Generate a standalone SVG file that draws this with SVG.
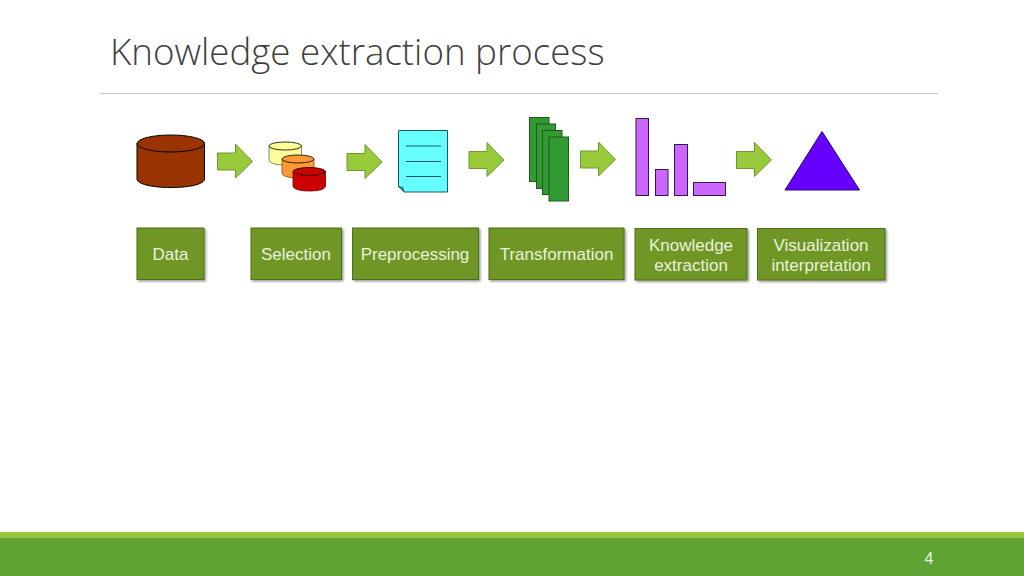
<svg xmlns="http://www.w3.org/2000/svg" width="1024" height="576" viewBox="0 0 1024 576">
<defs>
<filter id="sh" x="-10%" y="-10%" width="125%" height="125%"><feDropShadow dx="1.500" dy="1.500" stdDeviation="1.200" flood-color="#000" flood-opacity="0.4"/></filter>
<path id="arr" d="M0 9H18V0L35 17.500 18 34V26H0Z" fill="#99ca3c" stroke="#6f9a2a" stroke-width="1"/>
</defs>
<style>
.box{fill:#6f9725;stroke:#4f6e1b;stroke-width:1;filter:url(#sh)}
.lbl{font-family:"Liberation Sans",Arial,sans-serif;font-size:17px;fill:#e8f2dc;text-anchor:middle}
.k{stroke:#000;stroke-width:1}
.ln{stroke:#1a5a60;stroke-width:1;fill:none}
</style>
<rect width="1024" height="576" fill="#fff"/>
<text x="110" y="65" font-family="'Open Sans','Noto Sans',sans-serif" font-weight="300" font-size="36.700" fill="#404040" id="title">Knowledge extraction process</text>
<rect x="100" y="93" width="838" height="1" fill="#c8c8c8"/>
<rect x="0" y="532" width="1024" height="6" fill="#9bc53d"/>
<rect x="0" y="538" width="1024" height="38" fill="#5ea334"/>
<text x="929" y="564" font-family="'Liberation Sans',Arial,sans-serif" font-size="16" fill="#e8f5e0" text-anchor="middle">4</text>

<g id="connectors">
<use href="#arr" x="217.500" y="144"/>
<use href="#arr" x="347" y="144.500"/>
<use href="#arr" x="469" y="142.500"/>
<use href="#arr" x="580.500" y="142"/>
<use href="#arr" x="736.500" y="142.500"/>
</g>

<g id="icon-data">
<path class="k" fill="#993300" d="M137 143V179C137 184 152 187.500 171 187.500S204.500 184 204.500 179V143Z"/>
<ellipse class="k" cx="170.800" cy="143.500" rx="33.700" ry="8.500" fill="#993300"/>
</g>
<g id="icon-selection">
<path fill="#ffff99" stroke="#555" stroke-width=".7" d="M269 146V160C269 163 276 165 285 165S301.500 163 301.500 160V146Z"/>
<ellipse cx="285.200" cy="146" rx="16.300" ry="4" fill="#ffff99" stroke="#000" stroke-width=".8"/>
<path fill="#ff9933" stroke="#7a4a10" stroke-width=".8" d="M282 159V173C282 176 289 178 298 178S314 176 314 173V159Z"/>
<ellipse cx="298" cy="159" rx="16" ry="4" fill="#ff9933" stroke="#000" stroke-width=".8"/>
<path fill="#cc0000" stroke="#7a0000" stroke-width=".8" d="M293 171.500V186C293 189 300 191 309.500 191S325.500 189 325.500 186V171.500Z"/>
<ellipse cx="309.300" cy="171.500" rx="16.200" ry="4" fill="#cc0000" stroke="#000" stroke-width=".8"/>
</g>
<g id="icon-preprocessing">
<path d="M398.500 130.500H447.500V192H404L398.500 186.500Z" fill="#66ffff" stroke="#1a5a60" stroke-width="1"/>
<path d="M398.500 186.500L404 192L403 187.500Z" fill="#33aaaa" stroke="#1a5a60" stroke-width=".8"/>
<path class="ln" d="M406 146H441M406 161.500H441M406 176.500H441"/>
</g>
<g id="icon-transformation" fill="#339933" stroke="#1a5c1a" stroke-width="1">
<rect x="529.500" y="117.500" width="19.500" height="64"/>
<rect x="536.500" y="124" width="19" height="64.500"/>
<rect x="542.500" y="130.500" width="19.500" height="64"/>
<rect x="549" y="137" width="19.500" height="64"/>
</g>
<g id="icon-extraction" fill="#cc66ff" stroke="#2e1a4f" stroke-width="1">
<rect x="636" y="118.500" width="12.500" height="77"/>
<rect x="655.500" y="169.500" width="12.500" height="26"/>
<rect x="674.500" y="144.500" width="13" height="51"/>
<rect x="693.500" y="182.500" width="32" height="13"/>
</g>
<g id="icon-visualization">
<path d="M822 131.500L859.500 190H785Z" fill="#6600ff" stroke="#2a0a70" stroke-width="1"/>
</g>

<g id="node-data"><rect class="box" x="137" y="228" width="67" height="51.500"/><text class="lbl" x="170.500" y="260">Data</text></g>
<g id="node-selection"><rect class="box" x="251" y="228" width="90.500" height="51.500"/><text class="lbl" x="296" y="260">Selection</text></g>
<g id="node-preprocessing"><rect class="box" x="352.500" y="228" width="126" height="51.500"/><text class="lbl" x="415" y="260">Preprocessing</text></g>
<g id="node-transformation"><rect class="box" x="489" y="228" width="135" height="51.500"/><text class="lbl" x="556.500" y="260">Transformation</text></g>
<g id="node-knowledge"><rect class="box" x="635" y="228.500" width="112" height="51.500"/><text class="lbl" x="691" y="250.500">Knowledge</text><text class="lbl" x="691" y="271">extraction</text></g>
<g id="node-visualization"><rect class="box" x="757.500" y="228.500" width="127.500" height="51.500"/><text class="lbl" x="821" y="250.500">Visualization</text><text class="lbl" x="821" y="271">interpretation</text></g>
</svg>
